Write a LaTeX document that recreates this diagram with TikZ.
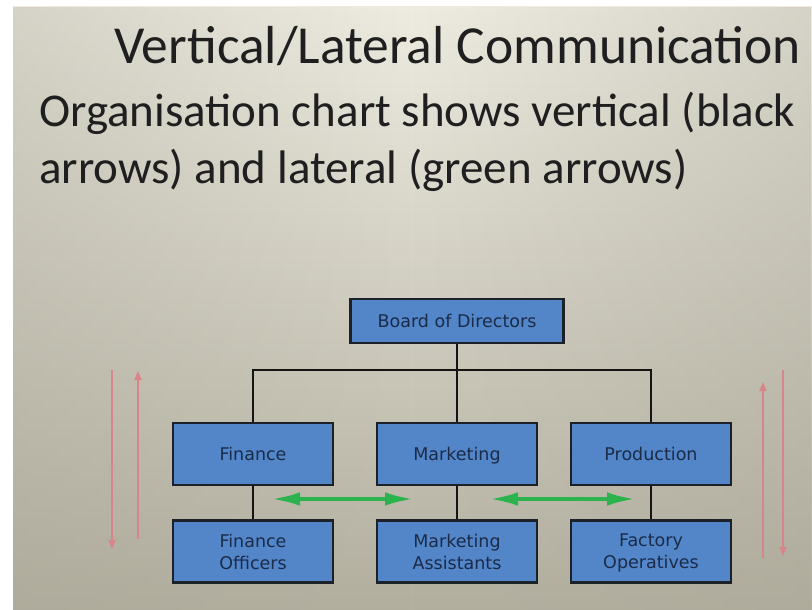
\documentclass[tikz,border=0pt]{standalone}
\usepackage{fontspec}
\newfontfamily\titlefont{Carlito}
\newfontfamily\boxfont{DejaVu Sans}
\usetikzlibrary{arrows.meta,fadings}
\definecolor{bgtop}{HTML}{EEECE1}
\definecolor{bgbot}{HTML}{B2AF9F}
\definecolor{bgside}{HTML}{A8A597}
\definecolor{boxblue}{HTML}{5286C9}
\definecolor{boxline}{HTML}{1C2028}
\definecolor{boxtext}{HTML}{1B2B48}
\definecolor{lateral}{HTML}{2DB34E}
\definecolor{vertred}{HTML}{D7848A}
\newcommand\bxstrut{\rule[-3.5pt]{0pt}{20pt}}
\tikzfading[name=sidefade, left color=transparent!65, right color=transparent!65, middle color=transparent!100]
\tikzset{
  orgbox/.style={draw=boxline, line width=2.2pt, fill=boxblue, text=boxtext,
    minimum width=160pt, minimum height=62pt, inner sep=0pt, align=center,
    font=\boxfont\fontsize{17.5}{22}\selectfont},
  link/.style={draw=black!92, line width=2.8pt},
  greenarrow/.style={draw=lateral, line width=4.5pt, {Latex[length=30pt,width=13.5pt]}-{Latex[length=30pt,width=13.5pt]}},
  redarrow/.style={draw=vertred, line width=1.8pt, -{Triangle[length=9pt,width=7pt]}},
  heading/.style={anchor=base west, inner sep=0pt, text=black!88}
}
\begin{document}
\begin{tikzpicture}[x=1pt,y=-1pt]
\useasboundingbox (0,0) rectangle (812,610);
\fill[white] (0,0) rectangle (812,610);
\shade[top color=bgtop, bottom color=bgbot] (13,7) rectangle (812,610);
\fill[bgside, path fading=sidefade] (13,7) rectangle (812,610);

\node[heading, font=\titlefont\fontsize{53.5}{60}\selectfont] (title) at (114,64) {Vertical/Lateral Communication};
\node[heading, font=\titlefont\fontsize{47}{56}\selectfont] (sub1) at (39,126) {Organisation chart shows vertical (black};
\node[heading, font=\titlefont\fontsize{47}{56}\selectfont] (sub2) at (39,183) {arrows) and lateral (green arrows)};

\node[orgbox, minimum width=213pt, minimum height=44pt] (board) at (457,321) {\bxstrut Board of Directors};
\node[orgbox] (fin) at (253,454) {\bxstrut Finance};
\node[orgbox] (mkt) at (457,454) {\bxstrut Marketing};
\node[orgbox] (prod) at (651,454) {\bxstrut Production};
\node[orgbox] (finoff) at (253,551.5) {\bxstrut Finance\\\bxstrut Officers};
\node[orgbox] (mktass) at (457,551.5) {\bxstrut Marketing\\\bxstrut Assistants};
\node[orgbox] (factop) at (651,551.5) {\bxstrut Factory\\\bxstrut Operatives};

\draw[link] (board.south) -- (mkt.north);
\draw[link] (fin.north) -- ++(0,-52) -| (prod.north);
\draw[link] (fin.south) -- (finoff.north);
\draw[link] (mkt.south) -- (mktass.north);
\draw[link] (prod.south) -- (factop.north);

\coordinate (gl1) at (270,499);
\coordinate (gr1) at (415,499);
\coordinate (gl2) at (488,499);
\coordinate (gr2) at (637,499);
\draw[greenarrow] (gl1) -- (gr1);
\draw[greenarrow] (gl2) -- (gr2);

\coordinate (ld1) at (112,370);
\coordinate (ld2) at (112,549);
\coordinate (lu1) at (138,539);
\coordinate (lu2) at (138,371);
\coordinate (ru1) at (763,558);
\coordinate (ru2) at (763,382);
\coordinate (rd1) at (783,370);
\coordinate (rd2) at (783,556);
\draw[redarrow] (ld1) -- (ld2);
\draw[redarrow] (lu1) -- (lu2);
\draw[redarrow] (ru1) -- (ru2);
\draw[redarrow] (rd1) -- (rd2);
\end{tikzpicture}
\end{document}
